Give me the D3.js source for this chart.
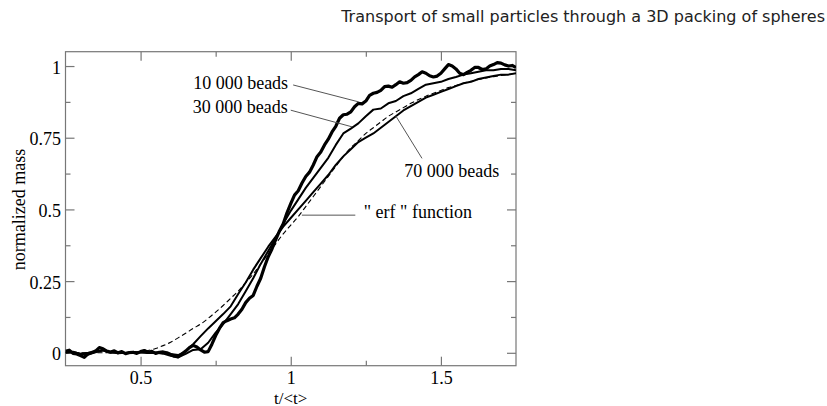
<!DOCTYPE html>
<html>
<head>
<meta charset="utf-8">
<script src="https://cdn.jsdelivr.net/npm/d3@7"></script>
<style>
  body { margin: 0; background: #fff; }
  svg { display: block; }
</style>
</head>
<body>
<svg id="chart" width="827" height="406"></svg>
<script>
// Dimensionless time t/<t> for the 30 000 / 70 000 bead runs and the fit
const t = [0.25,0.275,0.3,0.325,0.35,0.375,0.4,0.425,0.45,0.475,
           0.5,0.525,0.55,0.575,0.6,0.625,0.65,0.675,0.7,0.725,
           0.75,0.775,0.8,0.825,0.85,0.875,0.9,0.925,0.95,0.975,
           1,1.025,1.05,1.075,1.1,1.125,1.15,1.175,1.2,1.225,
           1.25,1.275,1.3,1.325,1.35,1.375,1.4,1.425,1.45,1.475,
           1.5,1.525,1.55,1.575,1.6,1.625,1.65,1.675,1.7,1.725,1.75];

// Finer sampling for the 10 000 bead run
const tFine = [0.25,0.2625,0.275,0.2875,0.3,0.3125,0.325,0.3375,0.35,0.3625,
               0.375,0.3875,0.4,0.4125,0.425,0.4375,0.45,0.4625,0.475,0.4875,
               0.5,0.5125,0.525,0.5375,0.55,0.5625,0.575,0.5875,0.6,0.6125,
               0.625,0.6375,0.65,0.6625,0.675,0.6875,0.7,0.7125,0.725,0.7375,
               0.75,0.7625,0.775,0.7875,0.8,0.8125,0.825,0.8375,0.85,0.8625,
               0.875,0.8875,0.9,0.9125,0.925,0.9375,0.95,0.9625,0.975,0.9875,
               1,1.0125,1.025,1.0375,1.05,1.0625,1.075,1.0875,1.1,1.1125,
               1.125,1.1375,1.15,1.1625,1.175,1.1875,1.2,1.2125,1.225,1.2375,
               1.25,1.2625,1.275,1.2875,1.3,1.3125,1.325,1.3375,1.35,1.3625,
               1.375,1.3875,1.4,1.4125,1.425,1.4375,1.45,1.4625,1.475,1.4875,
               1.5,1.5125,1.525,1.5375,1.55,1.5625,1.575,1.5875,1.6,1.6125,
               1.625,1.6375,1.65,1.6625,1.675,1.6875,1.7,1.7125,1.725,1.7375,1.75];

// Normalized mass, 10 000 beads (on tFine)
const beads10k = [0.005,0.009,-0.002,-0.004,-0.01,-0.016,-0.004,0.001,0.006,0.018,
                  0.014,0.006,0.003,0.007,0.0,0.004,-0.003,0.001,0.002,-0.002,
                  0.004,0.008,0.001,0.005,-0.002,0.002,0.003,0.0,-0.006,-0.012,
                  -0.014,-0.004,0.006,0.018,0.026,0.02,0.01,0.002,0.004,0.03,
                  0.06,0.085,0.105,0.112,0.118,0.122,0.135,0.152,0.175,0.19,
                  0.2,0.232,0.26,0.3,0.335,0.362,0.395,0.425,0.45,0.488,
                  0.52,0.55,0.565,0.592,0.615,0.63,0.655,0.684,0.70,0.725,
                  0.745,0.77,0.79,0.818,0.83,0.832,0.84,0.858,0.87,0.868,
                  0.878,0.898,0.905,0.908,0.915,0.928,0.93,0.926,0.935,0.945,
                  0.94,0.942,0.95,0.962,0.97,0.98,0.975,0.966,0.962,0.965,
                  0.975,0.99,1.005,1.0,0.99,0.975,0.97,0.978,0.985,0.995,
                  0.995,0.988,0.99,1.0,1.005,1.012,1.01,1.004,1.0,1.002,0.995];

// Normalized mass, 30 000 beads
const beads30k = [0.002,0.004,-0.004,-0.006,0.002,0.008,0.0,0.003,-0.002,-0.001,
                  0.002,0.0,0.001,-0.003,-0.01,-0.016,-0.004,0.01,0.012,0.035,
                  0.07,0.10,0.135,0.17,0.215,0.26,0.31,0.355,0.40,0.45,
                  0.495,0.535,0.575,0.61,0.645,0.68,0.725,0.765,0.782,0.80,
                  0.825,0.848,0.852,0.87,0.878,0.895,0.905,0.92,0.935,0.94,
                  0.945,0.955,0.962,0.97,0.975,0.98,0.985,0.985,0.99,0.99,0.985];

// Normalized mass, 70 000 beads
const beads70k = [0.0,0.003,-0.003,0.0,0.004,0.01,0.002,-0.002,0.0,0.003,
                  0.002,-0.001,0.0,0.002,-0.004,-0.008,0.005,0.03,0.058,0.085,
                  0.11,0.135,0.162,0.205,0.245,0.29,0.33,0.37,0.405,0.44,
                  0.47,0.50,0.53,0.56,0.59,0.62,0.655,0.685,0.71,0.735,
                  0.75,0.765,0.785,0.805,0.825,0.845,0.86,0.875,0.89,0.90,
                  0.91,0.92,0.93,0.94,0.945,0.955,0.96,0.965,0.97,0.97,0.975];

// "erf" fit
const erfCurve = [0,0,0,0,0,0,0.0005,0.001,0.001,0.002,
                  0.004,0.008,0.015,0.025,0.037,0.052,0.068,0.085,0.10,0.12,
                  0.142,0.165,0.19,0.215,0.245,0.275,0.31,0.345,0.38,0.415,
                  0.445,0.475,0.51,0.545,0.58,0.615,0.65,0.685,0.715,0.74,
                  0.765,0.785,0.805,0.825,0.84,0.855,0.87,0.883,0.895,0.905,
                  0.915,0.925,0.932,0.94,0.947,0.953,0.958,0.963,0.967,0.971,0.975];

const xTicks = [0.5, 1, 1.5];
const xTickLabels = ["0.5", "1", "1.5"];
const xMinorTicks = [0.75, 1.25];
const yTicks = [0, 0.25, 0.5, 0.75, 1];
const yTickLabels = ["0", "0.25", "0.5", "0.75", "1"];
const yMinorTicks = [0.125, 0.375, 0.625, 0.875];

const titleText = "Transport of small particles through a 3D packing of spheres";
const xLabel = "t/<t>";
const yLabel = "normalized mass";

// ---- layout ----
const plotLeft = 65.5, plotRight = 516, plotTop = 51.7, plotBottom = 365.7;
const serif = "'Liberation Serif', 'Times New Roman', serif";
const frameColor = "#777";

const svg = d3.select("#chart");
const x = d3.scaleLinear().domain([0.25, 1.75]).range([plotLeft, plotRight]);
const y = d3.scaleLinear().domain([-0.045, 1.05]).range([plotBottom, plotTop]);

// title
svg.append("text")
  .attr("x", 825).attr("y", 21.5)
  .attr("text-anchor", "end")
  .attr("font-family", "'DejaVu Sans', sans-serif")
  .attr("font-size", 16)
  .attr("fill", "#222")
  .text(titleText);

// axes with inward ticks on every side
function styleAxis(g) {
  g.select(".domain").remove();
  g.selectAll(".tick line").attr("stroke", frameColor).attr("stroke-width", 1.2);
  g.selectAll("text").attr("font-family", serif).attr("font-size", 18).attr("fill", "#000");
}

const tickFmtX = (d, i) => xTickLabels[i];
const tickFmtY = (d, i) => yTickLabels[i];

svg.append("g").attr("transform", `translate(0,${plotBottom})`)
  .call(d3.axisBottom(x).tickValues(xTicks).tickFormat(tickFmtX).tickSizeInner(-9).tickSizeOuter(0).tickPadding(6))
  .call(styleAxis);
svg.append("g").attr("transform", `translate(0,${plotBottom})`)
  .call(d3.axisBottom(x).tickValues(xMinorTicks).tickFormat("").tickSizeInner(-5).tickSizeOuter(0))
  .call(styleAxis);
svg.append("g").attr("transform", `translate(0,${plotTop})`)
  .call(d3.axisTop(x).tickValues(xTicks).tickFormat("").tickSizeInner(-9).tickSizeOuter(0))
  .call(styleAxis);
svg.append("g").attr("transform", `translate(0,${plotTop})`)
  .call(d3.axisTop(x).tickValues(xMinorTicks).tickFormat("").tickSizeInner(-5).tickSizeOuter(0))
  .call(styleAxis);

svg.append("g").attr("transform", `translate(${plotLeft},0)`)
  .call(d3.axisLeft(y).tickValues(yTicks).tickFormat(tickFmtY).tickSizeInner(-9).tickSizeOuter(0).tickPadding(4.5))
  .call(styleAxis)
  .call(g => g.selectAll("text").attr("dy", "0.4em"));
svg.append("g").attr("transform", `translate(${plotLeft},0)`)
  .call(d3.axisLeft(y).tickValues(yMinorTicks).tickFormat("").tickSizeInner(-5).tickSizeOuter(0))
  .call(styleAxis);
svg.append("g").attr("transform", `translate(${plotRight},0)`)
  .call(d3.axisRight(y).tickValues(yTicks).tickFormat("").tickSizeInner(-9).tickSizeOuter(0))
  .call(styleAxis);
svg.append("g").attr("transform", `translate(${plotRight},0)`)
  .call(d3.axisRight(y).tickValues(yMinorTicks).tickFormat("").tickSizeInner(-5).tickSizeOuter(0))
  .call(styleAxis);

// frame
svg.append("rect")
  .attr("x", plotLeft).attr("y", plotTop)
  .attr("width", plotRight - plotLeft).attr("height", plotBottom - plotTop)
  .attr("fill", "none").attr("stroke", frameColor).attr("stroke-width", 1.2);

// axis titles
svg.append("text")
  .attr("x", (plotLeft + plotRight) / 2).attr("y", 403.5)
  .attr("text-anchor", "middle")
  .attr("font-family", serif).attr("font-size", 17)
  .text(xLabel);
svg.append("text")
  .attr("transform", `translate(25,${y(0.5)}) rotate(-90)`)
  .attr("text-anchor", "middle")
  .attr("font-family", serif).attr("font-size", 18)
  .text(yLabel);

// curves
svg.append("defs").append("clipPath").attr("id", "plotClip")
  .append("rect").attr("x", plotLeft).attr("y", plotTop)
  .attr("width", plotRight - plotLeft).attr("height", plotBottom - plotTop);

const plot = svg.append("g").attr("clip-path", "url(#plotClip)");
const series = [
  { xs: t,     values: erfCurve, width: 1.1, dash: "5,3", curve: d3.curveMonotoneX },
  { xs: t,     values: beads70k, width: 2.0, dash: null,  curve: d3.curveLinear },
  { xs: t,     values: beads30k, width: 2.0, dash: null,  curve: d3.curveLinear },
  { xs: tFine, values: beads10k, width: 3.2, dash: null,  curve: d3.curveLinear }
];
series.forEach(s => {
  const line = d3.line()
    .x((d, i) => x(s.xs[i]))
    .y(d => y(d))
    .curve(s.curve);
  plot.append("path")
    .datum(s.values)
    .attr("d", line)
    .attr("fill", "none")
    .attr("stroke", "#000")
    .attr("stroke-width", s.width)
    .attr("stroke-linejoin", "round")
    .attr("stroke-dasharray", s.dash);
});

// labels with leader lines (anchor points in data units)
const notes = [
  { text: "10 000 beads", tx: 0.675, ty: 0.919, from: [1.008, 0.934], to: [1.226, 0.875] },
  { text: "30 000 beads", tx: 0.674, ty: 0.835, from: [1.0, 0.846],   to: [1.204, 0.788] },
  { text: "70 000 beads", tx: 1.378, ty: 0.614, from: [1.437, 0.678], to: [1.348, 0.829] },
  { text: "\" erf \" function", tx: 1.243, ty: 0.469, from: [1.037, 0.48], to: [1.215, 0.48] }
];
notes.forEach(n => {
  svg.append("line")
    .attr("x1", x(n.from[0])).attr("y1", y(n.from[1]))
    .attr("x2", x(n.to[0])).attr("y2", y(n.to[1]))
    .attr("stroke", "#555").attr("stroke-width", 1);
  svg.append("text")
    .attr("x", x(n.tx)).attr("y", y(n.ty))
    .attr("font-family", serif).attr("font-size", 18)
    .text(n.text);
});
</script>
</body>
</html>
